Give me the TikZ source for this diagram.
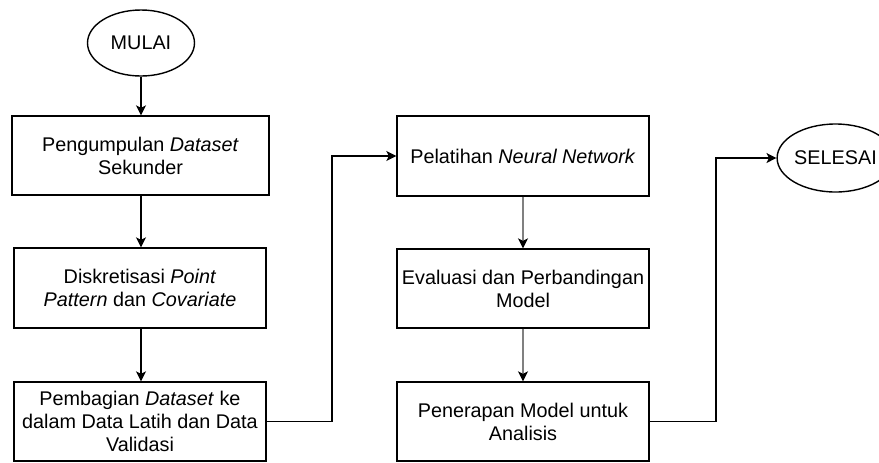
\documentclass[tikz,border=0pt]{standalone}
\usepackage{fontspec}
\setmainfont{Liberation Sans}
\usetikzlibrary{arrows.meta,shapes.geometric,calc}

\begin{document}
\begin{tikzpicture}[
    x=0.5pt, y=-0.5pt,
    every node/.style={font=\fontsize{9.9}{11.5}\selectfont, inner sep=0pt},
    procbox/.style={draw=black, line width=0.7pt, rectangle, align=center,
                    minimum width=126pt, minimum height=40pt},
    terminal/.style={draw=black, line width=0.7pt, ellipse,
                     minimum width=53.5pt, minimum height=33pt},
    tip/.style={-{Stealth[length=5pt,width=5pt,inset=1.3pt,color=black]}},
    flow/.style={draw=black, line width=0.65pt, tip},
    flowgray/.style={draw=black!50, line width=0.65pt, tip},
    elbow/.style={draw=black, line width=0.65pt, tip},
]
\useasboundingbox (0,0) rectangle (879,462);

% terminals
\node[terminal] (mulai) at (141,43) {MULAI};
\node[terminal, minimum height=34pt] (selesai) at (835.5,158) {SELESAI};

% left column
\node[procbox, minimum width=128.5pt, minimum height=39.5pt] (kumpul) at (140.5,155.5)
  {Pengumpulan \textit{Dataset}\\Sekunder};
\node[procbox] (diskret) at (140,288)
  {Diskretisasi \textit{Point}\\\textit{Pattern} dan \textit{Covariate}};
\node[procbox, minimum height=39.5pt] (bagi) at (140,421.5)
  {Pembagian \textit{Dataset} ke\\dalam Data Latih dan Data\\Validasi};

% right column
\node[procbox] (latih) at (523,156)
  {Pelatihan \textit{Neural Network}};
\node[procbox, minimum height=39.5pt] (eval) at (523,288.5)
  {Evaluasi dan Perbandingan\\Model};
\node[procbox, minimum height=39.5pt] (terap) at (523,421.5)
  {Penerapan Model untuk\\Analisis};

% bend columns of the elbow connectors
\coordinate (bendA) at (332,0);
\coordinate (bendB) at (716,0);

% connectors
\draw[flow] (mulai.south) -- (mulai.south |- kumpul.north);
\draw[flow] (kumpul.south -| mulai.south) -- (diskret.north -| mulai.south);
\draw[flow] (diskret.south -| mulai.south) -- (bagi.north -| mulai.south);
\draw[elbow] (bagi.east) -| (bendA |- latih.west) -- (latih.west);
\draw[flowgray] (latih.south) -- (eval.north);
\draw[flowgray] (eval.south) -- (terap.north);
\draw[elbow] (terap.east) -| (bendB |- selesai.west) -- (selesai.west);
\end{tikzpicture}
\end{document}
